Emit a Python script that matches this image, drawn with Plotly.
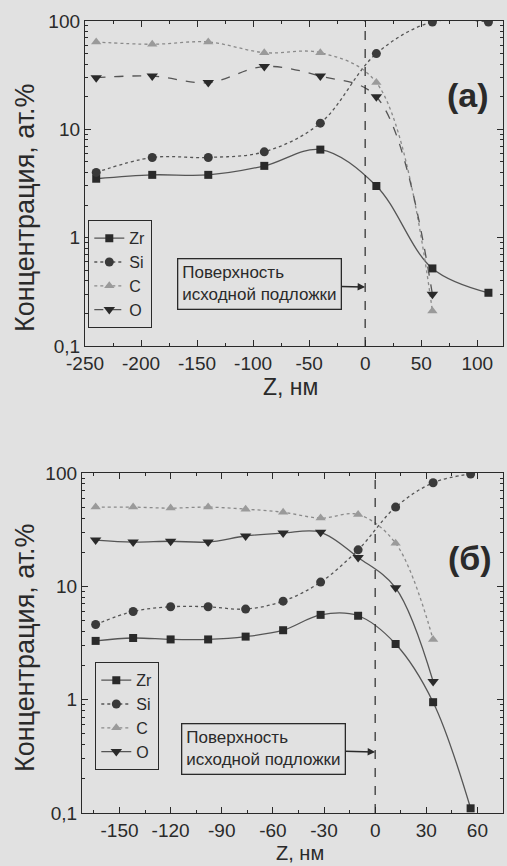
import math
import plotly.graph_objects as go

# ---- data (a) ----
z_a = [-240, -190, -140, -90, -40, 10, 60, 110]
zr_a = [3.5, 3.8, 3.8, 4.6, 6.5, 3.0, 0.52, 0.31]
si_a = [4.0, 5.5, 5.5, 6.2, 11.4, 50, 98, 98]
c_a = [64, 61, 64, 51, 51, 27, 0.21, None]
o_a = [30, 31, 27, 38, 31, 20, 0.30, None]

# ---- data (б) ----
z_b = [-164, -142, -120, -98, -76, -54, -32, -10, 12, 34, 56]
zr_b = [3.3, 3.5, 3.4, 3.4, 3.6, 4.1, 5.6, 5.5, 3.1, 0.95, 0.11]
si_b = [4.6, 6.0, 6.6, 6.6, 6.3, 7.4, 10.9, 21, 50, 82, 98]
c_b = [50, 50, 49, 50, 48, 45, 40, 43, 24, 3.4, None]
o_b = [25.6, 24.6, 25, 24.6, 27.8, 29.5, 30, 18, 9.7, 1.45, None]

names = ["Zr", "Si", "C", "O"]
y_ticks = [0.1, 1, 10, 100]
y_ticktext = ["0,1", "1", "10", "100"]
x_ticks_a = [-250, -200, -150, -100, -50, 0, 50, 100]
x_ticks_b = [-150, -120, -90, -60, -30, 0, 30, 60]

BG = "#e1e1e1"
INK = "#2a2a2a"
LINE = "#555555"
FONT = "Liberation Sans, Arial, sans-serif"

styles = {
    "Zr": dict(symbol="square", color=INK, dash="solid", size=8),
    "Si": dict(symbol="circle", color="#3a3a3a", dash="dot", size=9),
    "C": dict(symbol="triangle-up", color="#9a9a9a", dash="dot", size=9),
    "O": dict(symbol="triangle-down", color=INK, dash="dash", size=10),
}

fig = go.Figure()

def add_series(xs, ys_list, xa, ya, legend, o_dash):
    for name, ys in zip(names, ys_list):
        st = styles[name]
        dash = st["dash"] if name != "O" else o_dash
        fig.add_trace(go.Scatter(
            x=xs, y=ys, name=name, mode="lines+markers",
            xaxis=xa, yaxis=ya, legend=legend,
            connectgaps=False,
            line=dict(color=LINE if name != "C" else "#8a8a8a", width=1.3,
                      dash=dash, shape="spline", smoothing=1.0),
            marker=dict(symbol=st["symbol"], size=st["size"], color=st["color"]),
        ))

add_series(z_a, [zr_a, si_a, c_a, o_a], "x", "y", "legend", "dash")
add_series(z_b, [zr_b, si_b, c_b, o_b], "x2", "y2", "legend2", "solid")

W, H = 507, 866
def px_x(p): return p / W
def px_y(p): return 1 - p / H

axis_common = dict(
    showline=True, linecolor=INK, linewidth=1.3, mirror="ticks",
    ticks="inside", ticklen=6, tickcolor=INK, tickwidth=1.2,
    showgrid=False, zeroline=False, automargin=False,
    tickfont=dict(family=FONT, size=19, color=INK),
)
minor_log = [m * 10 ** e for e in (-1, 0, 1) for m in range(2, 10)]

fig.update_layout(
    width=W, height=H,
    margin=dict(l=0, r=0, t=0, b=0),
    paper_bgcolor=BG, plot_bgcolor=BG,
    font=dict(family=FONT, color=INK),
    xaxis=dict(axis_common, domain=[px_x(85), px_x(503)], range=[-250, 123],
               anchor="y", tickvals=x_ticks_a, ticktext=[str(v) for v in x_ticks_a],
               minor=dict(ticks="inside", ticklen=3, dtick=25, tickcolor=INK)),
    yaxis=dict(axis_common, domain=[px_y(346), px_y(21)], type="log", range=[-1, 2],
               anchor="x", tickvals=y_ticks, ticktext=y_ticktext,
               minor=dict(ticks="inside", ticklen=3, tickvals=minor_log, tickcolor=INK)),
    xaxis2=dict(axis_common, domain=[px_x(82), px_x(503)], range=[-172, 75],
                anchor="y2", tickvals=x_ticks_b, ticktext=[str(v) for v in x_ticks_b],
                minor=dict(ticks="inside", ticklen=3, dtick=15, tickcolor=INK)),
    yaxis2=dict(axis_common, domain=[px_y(813), px_y(473)], type="log", range=[-1, 2],
                anchor="x2", tickvals=y_ticks, ticktext=y_ticktext,
                minor=dict(ticks="inside", ticklen=3, tickvals=minor_log, tickcolor=INK)),
    legend=dict(x=px_x(88), y=px_y(220), xanchor="left", yanchor="top",
                bgcolor=BG, bordercolor=INK, borderwidth=1.3,
                font=dict(family=FONT, size=16, color=INK), itemwidth=30),
    legend2=dict(x=px_x(95), y=px_y(662), xanchor="left", yanchor="top",
                 bgcolor=BG, bordercolor=INK, borderwidth=1.3,
                 font=dict(family=FONT, size=16, color=INK), itemwidth=30),
    showlegend=True,
)

# vertical dashed lines at Z = 0
for xr, yr in (("x", "y domain"), ("x2", "y2 domain")):
    fig.add_shape(type="line", xref=xr, yref=yr, x0=0, x1=0, y0=0, y1=1,
                  line=dict(color=INK, width=1.2, dash="dash"))

# surface annotations
for xr, yr, yv, ax, ay in (("x", "y", 0.35, -106, -3), ("x2", "y2", 0.345, -112, -3)):
    fig.add_annotation(x=0, y=math.log10(yv), xref=xr, yref=yr,
                       text="Поверхность<br>исходной подложки", align="left",
                       showarrow=True, arrowhead=2, arrowsize=1, arrowwidth=1.5,
                       arrowcolor=INK, ax=ax, ay=ay,
                       bordercolor=INK, borderwidth=1.3, borderpad=4, bgcolor=BG,
                       font=dict(family=FONT, size=17, color=INK))

def paper_text(xc, yc, text, size, angle=0):
    fig.add_annotation(x=px_x(xc), y=px_y(yc), xref="paper", yref="paper", text=text,
                       xanchor="center", yanchor="middle", textangle=angle,
                       showarrow=False, font=dict(family=FONT, size=size, color=INK))

# panel labels
paper_text(468, 95, "<b>(а)</b>", 34)
paper_text(470, 558, "<b>(б)</b>", 34)

# axis titles
paper_text(290, 387, "Z, нм", 23)
paper_text(300, 853, "Z, нм", 20)
paper_text(25, 208, "Концентрация, ат.%", 27, -90)
paper_text(25, 648, "Концентрация, ат.%", 27, -90)

fig.write_html("out.html", config={"displayModeBar": False})

# remove default page margins so the 507x866 figure fits the window exactly
with open("out.html", "r", encoding="utf-8") as f:
    html = f.read()
html = html.replace("<head>", "<head><style>html,body{margin:0;padding:0;overflow:hidden;}</style>", 1)
with open("out.html", "w", encoding="utf-8") as f:
    f.write(html)
